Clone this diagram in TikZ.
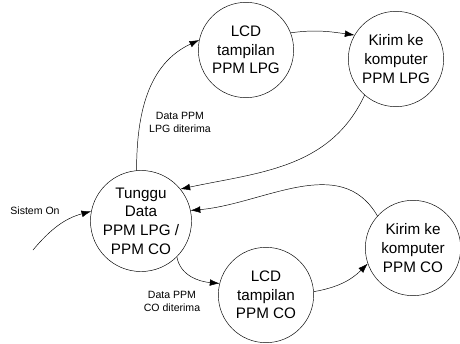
\documentclass[tikz,border=0pt]{standalone}
\usepackage{fontspec}
\setmainfont{Liberation Sans}
\usetikzlibrary{arrows.meta}
\begin{document}
\begin{tikzpicture}[x=0.03cm, y=-0.03cm, >={Latex[length=2.9mm,width=2mm]}, line join=round, line cap=round,
	state/.style={draw, circle, minimum size=2.86cm, inner sep=0pt, align=center, font=\fontsize{13}{16}\selectfont},
	lbl/.style={align=center, font=\fontsize{9}{11}\selectfont}]
	\useasboundingbox (0,0) rectangle (460,343);
	\path
	(141,221) coordinate (T)
	(246,50) coordinate (L1)
	(396,59) coordinate (K1)
	(266,295) coordinate (L2)
	(413,248) coordinate (K2)
	(33,250) coordinate (S)
	;
	\node[state] (tunggu) at (T) {Tunggu\\Data\\PPM LPG /\\PPM CO};
	\node[state] (lcdlpg) at (L1) {LCD\\tampilan\\PPM LPG};
	\node[state] (kirimlpg) at (K1) {Kirim ke\\komputer\\PPM LPG};
	\node[state] (lcdco) at (L2) {LCD\\tampilan\\PPM CO};
	\node[state] (kirimco) at (K2) {Kirim ke\\komputer\\PPM CO};
	\node[lbl] (on) at (35,211) {Sistem On};
	\node[lbl] (lpgok) at (180,122) {Data PPM\\LPG diterima};
	\node[lbl] (cook) at (172,301) {Data PPM\\CO diterima};
	\draw[->] (S) to[out=50, in=195] (tunggu.169);
	\draw[->] (tunggu.95) to[out=90, in=205] (lcdlpg.168);
	\draw[->] (lcdlpg.21) to[out=8, in=172] (kirimlpg.150);
	\draw[->] (kirimlpg.229) to[out=245, in=12] (tunggu.39);
	\draw[->] (kirimco.138) to[out=120, in=5] (tunggu.12);
	\draw[->] (tunggu.-45) to[out=-80, in=175] (lcdco.166);
	\draw[->] (lcdco.4) to[out=10, in=225] (kirimco.199);
\end{tikzpicture}
\end{document}
